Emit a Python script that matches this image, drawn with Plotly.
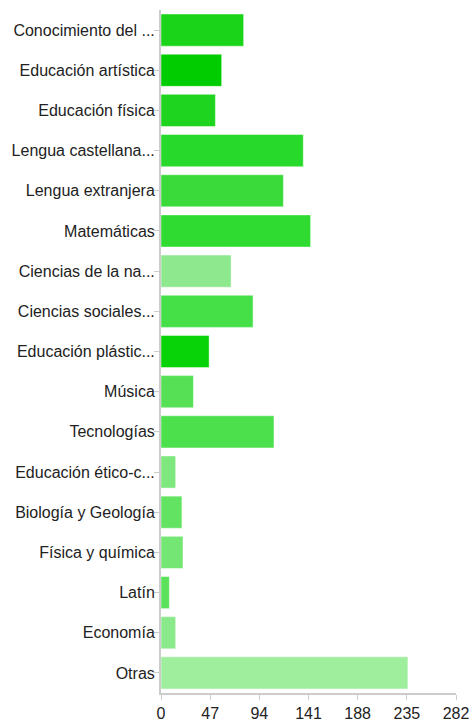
import plotly.graph_objects as go

categories = [
    "Conocimiento del ...", "Educación artística", "Educación física",
    "Lengua castellana...", "Lengua extranjera", "Matemáticas",
    "Ciencias de la na...", "Ciencias sociales...", "Educación plástic...",
    "Música", "Tecnologías", "Educación ético-c...", "Biología y Geología",
    "Física y química", "Latín", "Economía", "Otras",
]
values = [79, 58, 52, 136, 117, 143, 67, 88, 46, 31, 108, 14, 20, 21, 8, 14, 236]
bar_colors = [
    "#1ad41a", "#00cc00", "#1ed41e", "#26d92a", "#3ada3a", "#2fdb31",
    "#8ee98e", "#45df48", "#08d208", "#55e055", "#4de04d", "#7ee87e",
    "#62e462", "#74e674", "#5ae35a", "#8ae98a", "#9eee9e",
]
tick_vals = [0, 47, 94, 141, 188, 235, 282]

fig = go.Figure(go.Bar(
    x=values, y=categories, orientation="h",
    marker=dict(color=bar_colors, line=dict(color="rgba(255,255,255,0.45)", width=1)),
    hoverinfo="x+y",
))

fig.update_layout(
    width=469, height=721,
    margin=dict(l=161, r=13, t=10, b=28),
    paper_bgcolor="white", plot_bgcolor="white",
    bargap=0.2,
    showlegend=False,
    font=dict(family="Liberation Sans, Arial, sans-serif", size=16, color="#222222"),
    xaxis=dict(
        range=[0, 282], tickvals=tick_vals, ticktext=[str(v) for v in tick_vals],
        showgrid=False, zeroline=False, automargin=False,
        showline=True, linecolor="#cccccc", linewidth=2,
        ticks="outside", ticklen=5, tickcolor="#cccccc", tickwidth=1,
        tickfont=dict(size=16, color="#222222"),
        ticklabeloverflow="allow",
    ),
    yaxis=dict(
        autorange="reversed", showgrid=False, zeroline=False, automargin=False,
        showline=True, linecolor="#cccccc", linewidth=2,
        ticks="outside", ticklen=5, tickcolor="#cccccc", tickwidth=1,
        tickfont=dict(size=16, color="#222222"),
        ticklabeloverflow="allow",
        ticklabelstandoff=-4,
    ),
)

fig.write_html(
    "out.html",
    config={"displayModeBar": False},
    post_script="document.body.style.margin='0';document.body.style.overflow='hidden';",
)
